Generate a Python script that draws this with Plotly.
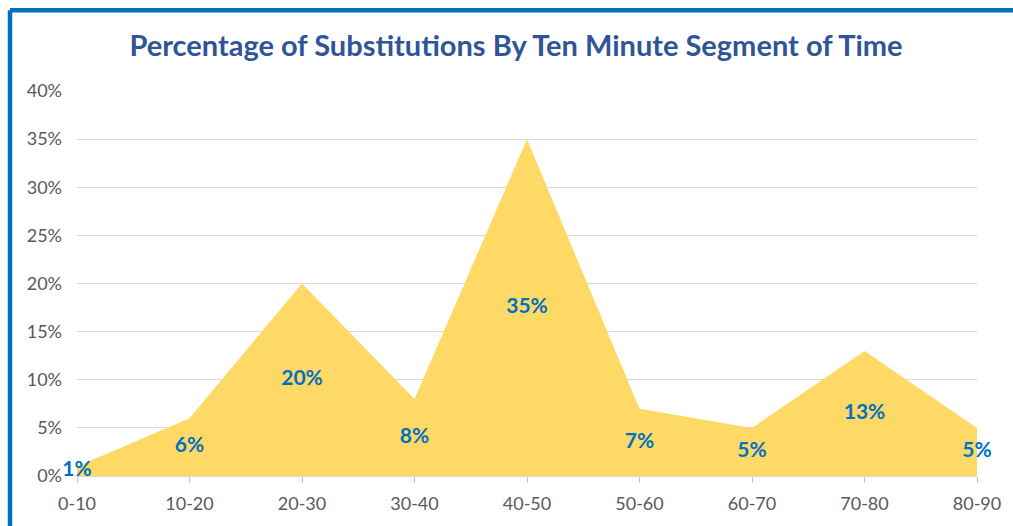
import plotly.graph_objects as go

# Share of substitutions per ten-minute segment of the match
segments = ["0-10", "10-20", "20-30", "30-40", "40-50", "50-60", "60-70", "70-80", "80-90"]
share = [0.01, 0.06, 0.20, 0.08, 0.35, 0.07, 0.05, 0.13, 0.05]
y_ticks = [0, 0.05, 0.10, 0.15, 0.20, 0.25, 0.30, 0.35, 0.40]
y_tick_text = ["0%", "5%", "10%", "15%", "20%", "25%", "30%", "35%", "40%"]

W, H = 1013, 526
ML, MR, MT, MB = 77, 36, 91, 46

fig = go.Figure()

fig.add_trace(go.Scatter(
    x=segments, y=share,
    mode="lines", line=dict(width=0, color="#FFD966"),
    fill="tozeroy", fillcolor="#FFD966",
    hoverinfo="skip", showlegend=False,
))

# value labels sit halfway up each point, like Excel's centered area labels
fig.add_trace(go.Scatter(
    x=segments, y=[v / 2 for v in share],
    mode="text",
    text=[f"{round(v * 100)}%" for v in share],
    textposition="middle center",
    textfont=dict(family="Lato", size=21, color="#0070C0", weight="bold"),
    hoverinfo="skip", showlegend=False, cliponaxis=False,
))

# blue frame along the left and top edges
pw, ph = W - ML - MR, H - MT - MB
fx = (10 - ML) / pw
fy = (H - MB - 9.5) / ph
frame = dict(color="#0070C0", width=4.5)
fig.add_shape(type="line", xref="paper", yref="paper",
              x0=fx, x1=fx, y0=-0.5, y1=fy, line=frame)
fig.add_shape(type="line", xref="paper", yref="paper",
              x0=fx, x1=1.5, y0=fy, y1=fy, line=frame)

fig.update_layout(
    width=W, height=H,
    margin=dict(l=ML, r=MR, t=MT, b=MB),
    paper_bgcolor="white", plot_bgcolor="white",
    title=dict(
        text="<b>Percentage of Substitutions By Ten Minute Segment of Time</b>",
        x=(516 / W), xanchor="center", y=1 - 46 / H, yanchor="middle",
        font=dict(family="Lato", size=29, color="#2F5597"),
    ),
    xaxis=dict(
        type="category", range=[0, len(segments) - 1],
        showgrid=False, showline=True, linecolor="#D9D9D9", linewidth=1,
        ticks="outside", ticklen=6, tickcolor="#BFBFBF", tickwidth=1,
        ticklabelstandoff=5,
        tickfont=dict(family="Lato", size=18, color="#595959"),
        fixedrange=True,
    ),
    yaxis=dict(
        range=[0, 0.4], tickvals=y_ticks, ticktext=y_tick_text,
        showgrid=True, gridcolor="#D9D9D9", gridwidth=1,
        zeroline=False, showline=False, ticks="",
        ticklabelstandoff=14,
        tickfont=dict(family="Lato", size=18, color="#595959"),
        fixedrange=True,
    ),
)

fig.write_html("out.html")
